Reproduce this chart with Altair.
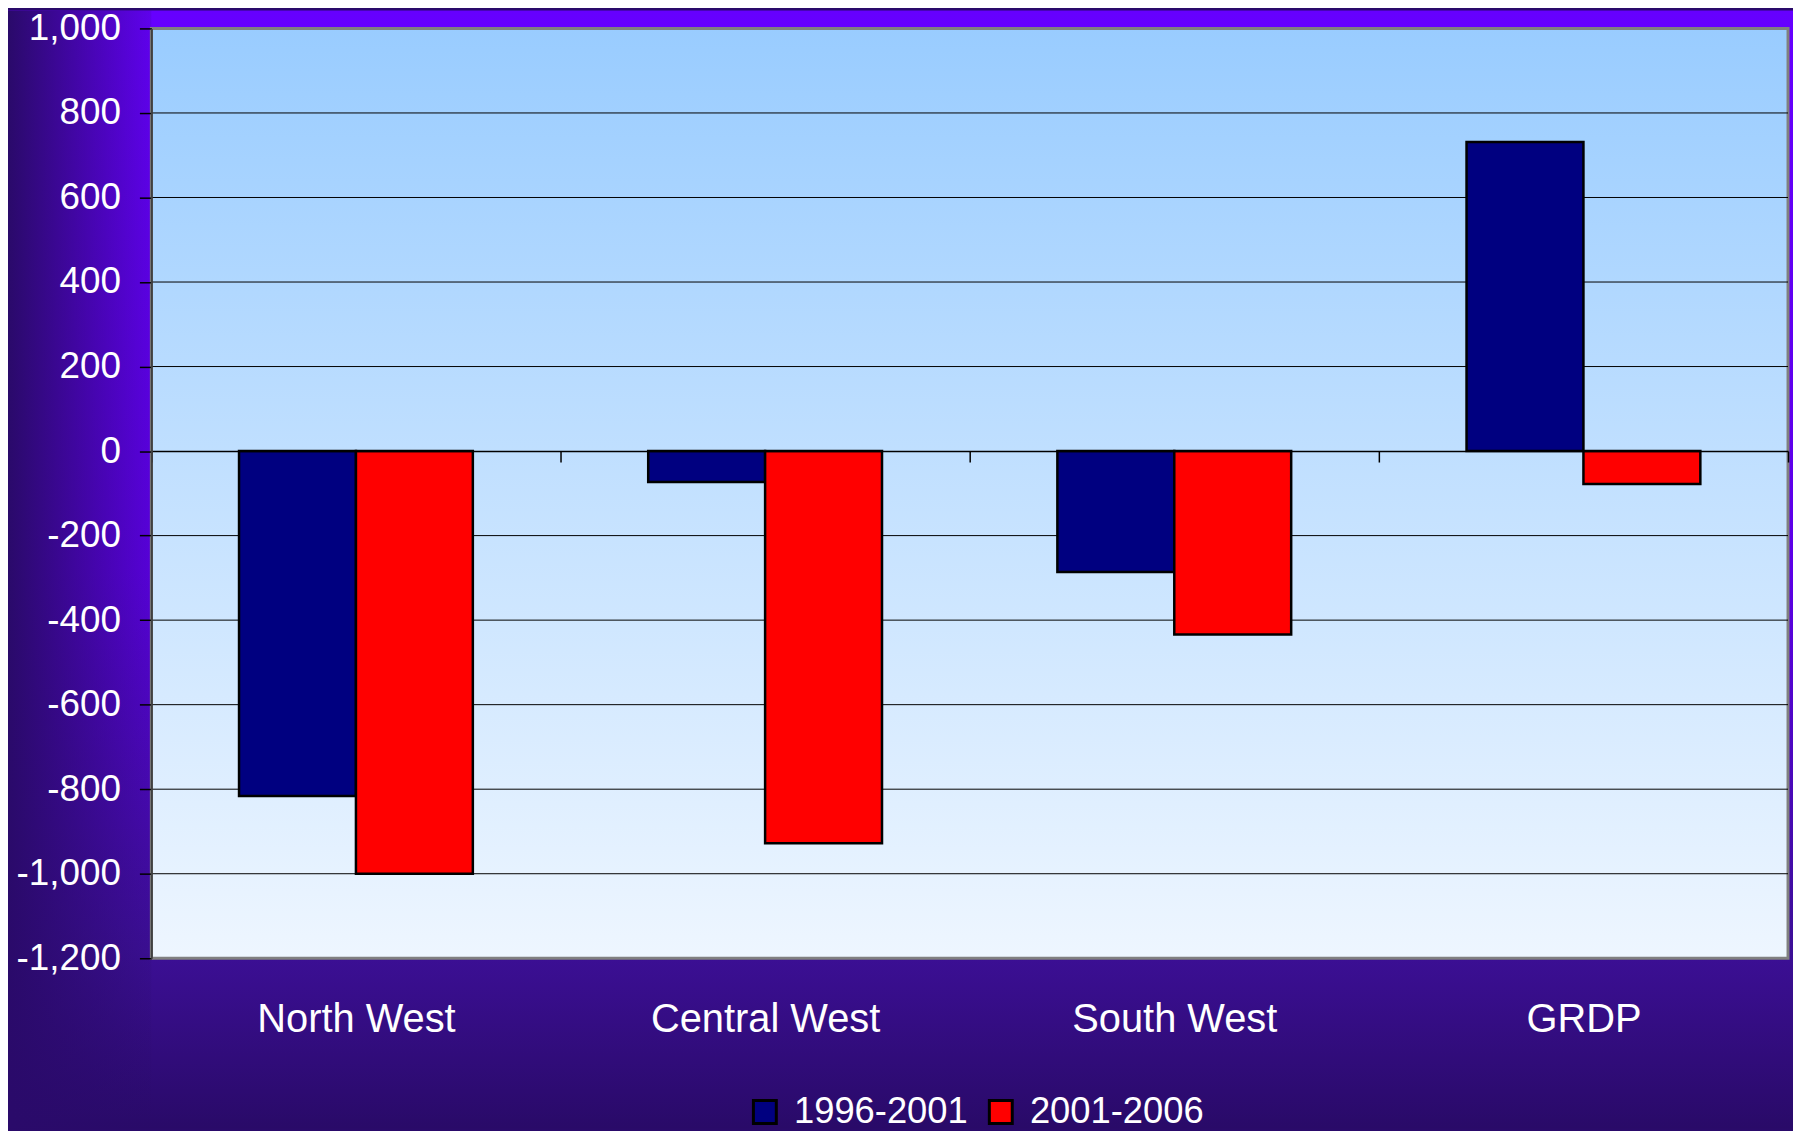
import altair as alt
import pandas as pd

# ---- data ----
regions = ["North West", "Central West", "South West", "GRDP"]
series_names = ["1996-2001", "2001-2006"]
values_1996_2001 = [-816, -73, -286, 731]
values_2001_2006 = [-1000, -928, -434, -78]
series_colors = ["#000080", "#FF0000"]
y_ticks = [-1200, -1000, -800, -600, -400, -200, 0, 200, 400, 600, 800, 1000]
grid_values = [-1000, -800, -600, -400, -200, 200, 400, 600, 800]

rows = []
for r, a, b in zip(regions, values_1996_2001, values_2001_2006):
    rows.append({"region": r, "series": series_names[0], "value": a})
    rows.append({"region": r, "series": series_names[1], "value": b})
df = pd.DataFrame(rows)
grid_df = pd.DataFrame({"value": grid_values})
one = pd.DataFrame({"k": [0]})

W, H = 1644, 934
PAD_L, PAD_T, PAD_R, PAD_B = 144, 18, 5, 171
Y_MIN, Y_MAX = -1200, 1000
zero_offset = -(H - H * Y_MAX / (Y_MAX - Y_MIN))
FONT = "Liberation Sans"

yscale = alt.Scale(domain=[Y_MIN, Y_MAX], nice=False, zero=False)
y_axis = alt.Axis(
    title=None,
    values=y_ticks,
    labelExpr="replace(format(datum.value, ','), '\u2212', '-')",
    labelFont=FONT,
    labelFontSize=37,
    labelColor="#FFFFFF",
    labelPadding=19,
    labelLimit=0,
    domain=True,
    domainColor="#404040",
    domainWidth=2,
    ticks=True,
    tickColor="#000000",
    tickWidth=1.5,
    tickSize=12,
    grid=False,
    zindex=1,
)

bg = alt.Chart(one).mark_rect(
    fill={
        "gradient": "linear",
        "x1": 0, "y1": 0, "x2": 0, "y2": 1,
        "stops": [
            {"offset": 0.0, "color": "#6600FF"},
            {"offset": 0.5, "color": "#5C00E6"},
            {"offset": 0.84, "color": "#3C0F96"},
            {"offset": 1.0, "color": "#290A68"},
        ],
    }
).encode(
    x=alt.value(-PAD_L), x2=alt.value(W + PAD_R),
    y=alt.value(-PAD_T), y2=alt.value(H + PAD_B),
)

left_shade = alt.Chart(one).mark_rect(
    fill={
        "gradient": "linear",
        "x1": 0, "y1": 0, "x2": 1, "y2": 0,
        "stops": [
            {"offset": 0.0, "color": "rgba(42,10,106,1)"},
            {"offset": 1.0, "color": "rgba(42,10,106,0.12)"},
        ],
    }
).encode(
    x=alt.value(-PAD_L), x2=alt.value(0),
    y=alt.value(-PAD_T), y2=alt.value(H + PAD_B),
)

plot_bg = alt.Chart(one).mark_rect(
    fill={
        "gradient": "linear",
        "x1": 0, "y1": 0, "x2": 0, "y2": 1,
        "stops": [
            {"offset": 0.0, "color": "#99CCFF"},
            {"offset": 1.0, "color": "#EEF6FF"},
        ],
    },
    stroke="#808080",
    strokeWidth=3,
).encode(
    x=alt.value(0), x2=alt.value(W),
    y=alt.value(0), y2=alt.value(H),
)

grid = alt.Chart(grid_df).mark_rule(color="#000000", strokeWidth=1).encode(
    y=alt.Y("value:Q", scale=yscale, axis=y_axis)
)

bars = alt.Chart(df).mark_bar(stroke="#000000", strokeWidth=2.5, opacity=1).encode(
    x=alt.X(
        "region:N",
        sort=regions,
        scale=alt.Scale(paddingInner=0, paddingOuter=0),
        axis=alt.Axis(
            title=None,
            labelAngle=0,
            labelFont=FONT,
            labelFontSize=40,
            labelColor="#FFFFFF",
            labelBaseline="middle",
            labelPadding=560,
            labelLimit=0,
            domain=True,
            domainColor="#000000",
            domainWidth=1.5,
            ticks=True,
            tickColor="#000000",
            tickWidth=1.5,
            tickSize=11,
            tickBand="extent",
            offset=zero_offset,
            zindex=1,
        ),
    ),
    xOffset=alt.XOffset(
        "series:N",
        sort=series_names,
        scale=alt.Scale(paddingInner=0, paddingOuter=0.75),
    ),
    y=alt.Y("value:Q", scale=yscale, axis=y_axis),
    color=alt.Color(
        "series:N",
        sort=series_names,
        scale=alt.Scale(domain=series_names, range=series_colors),
        legend=alt.Legend(
            title=None,
            orient="none",
            direction="horizontal",
            legendX=598,
            legendY=1070,
            symbolType="square",
            symbolSize=529,
            symbolStrokeColor="#000000",
            symbolStrokeWidth=3,
            symbolOpacity=1,
            labelFont=FONT,
            labelFontSize=36.5,
            labelColor="#FFFFFF",
            labelOffset=11,
            labelLimit=0,
            columnPadding=14,
            padding=0,
        ),
    ),
)

chart = alt.layer(bg, left_shade, plot_bg, grid, bars).properties(
    width=W,
    height=H,
    autosize=alt.AutoSizeParams(type="none"),
    padding={"left": PAD_L, "top": PAD_T, "right": PAD_R, "bottom": PAD_B},
    background="#2A0A6A",
).configure_view(stroke=None)

chart.save("out.html", embed_options={"renderer": "svg", "actions": False})
